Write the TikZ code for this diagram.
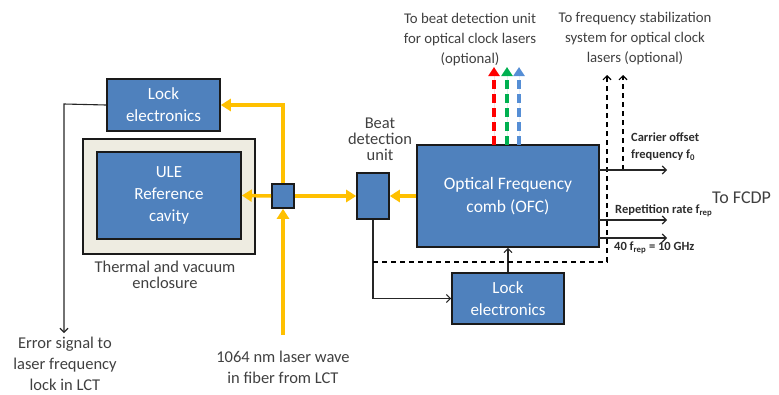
\documentclass[tikz,border=0pt]{standalone}
\usepackage{fontspec}
\setmainfont{Carlito}
\usetikzlibrary{arrows.meta,calc}
\definecolor{boxblue}{HTML}{4F81BD}
\definecolor{boxedge}{HTML}{1A1A1A}
\definecolor{encl}{HTML}{EEECE1}
\definecolor{laser}{HTML}{FFC000}
\definecolor{txtgray}{HTML}{404040}
\definecolor{cred}{HTML}{FF0000}
\definecolor{cgreen}{HTML}{00B050}
\definecolor{cblue}{HTML}{558ED5}
\tikzset{
  bluebox/.style={draw=boxedge, line width=1.6pt, fill=boxblue, text=white, align=center, inner sep=0pt,
    font=\fontsize{17}{22}\selectfont},
  enclbox/.style={draw=boxedge, line width=1.6pt, fill=encl, inner sep=0pt},
  yel/.style={draw=laser, line width=3.5pt, -{Triangle[length=10pt,width=12pt]}},
  sig/.style={draw=txtgray!60!black, line width=1.1pt, -{Straight Barb[length=4pt,width=8pt]}},
  dsig/.style={draw=black, line width=1.1pt, dash pattern=on 5pt off 4pt, -{Straight Barb[length=4pt,width=8pt]}},
  cdash/.style={line width=3.2pt, dash pattern=on 9pt off 5pt, -{Triangle[length=9pt,width=11pt]}},
  lbl/.style={text=txtgray, align=center, inner sep=0pt},
  small/.style={text=txtgray!70!black, align=left, inner sep=0pt, font=\bfseries\fontsize{12.5}{17}\selectfont},
}
\begin{document}
\begin{tikzpicture}[x=1pt,y=-1pt]
\useasboundingbox (0,0) rectangle (779,394);

% boxes
\node[bluebox, minimum width=113pt, minimum height=52pt] (lock1) at (163.5,105) {Lock\\electronics};
\node[enclbox, minimum width=172pt, minimum height=115pt] (encl) at (169,196.5) {};
\node[bluebox, minimum width=144pt, minimum height=87pt] (ule) at (169,195.5) {ULE\\Reference\\cavity};
\node[bluebox, minimum width=22pt, minimum height=24pt] (coup) at (283,196) {};
\node[bluebox, minimum width=32pt, minimum height=46pt] (beat) at (373,196) {};
\node[bluebox, minimum width=182pt, minimum height=102pt, font=\fontsize{17.5}{23}\selectfont] (ofc) at (508,196) {Optical Frequency\\comb (OFC)};
\node[bluebox, minimum width=112pt, minimum height=51pt] (lock2) at (508,298.5) {Lock\\electronics};

% labels
\node[lbl, font=\fontsize{16.5}{16}\selectfont] (thermal) at (165,275) {Thermal and vacuum\\enclosure};
\node[lbl, font=\fontsize{16.5}{16}\selectfont] (beatlbl) at (380,139) {Beat\\detection\\unit};
\node[lbl, font=\fontsize{16.5}{21}\selectfont] (errlbl) at (65,364) {Error signal to\\laser frequency\\lock in LCT};
\node[lbl, font=\fontsize{16.5}{21}\selectfont] (laserlbl) at (283,367.5) {1064 nm laser wave\\in fiber from LCT};
\node[lbl, font=\fontsize{14.8}{20}\selectfont] (toptxt1) at (470,40) {To beat detection unit\\for optical clock lasers\\(optional)};
\node[lbl, font=\fontsize{14.8}{20}\selectfont] (toptxt2) at (635,39) {To frequency stabilization\\system for optical clock\\lasers (optional)};
\node[lbl, font=\fontsize{18}{22}\selectfont, anchor=west] (fcdp) at (712,198) {To FCDP};
\node[small, anchor=west] (ceo) at (631,146.5) {Carrier offset\\frequency f\textsubscript{0}};
\node[small, anchor=west] (rep) at (615,211) {Repetition rate f\textsubscript{rep}};
\node[small, anchor=west] (forty) at (614,248) {40 f\textsubscript{rep} = 10 GHz};

% free ends
\coordinate (fiberin) at (283,335);
\coordinate (errout) at (64,333);
\coordinate (errcorner) at (64,104);
\coordinate (dtap) at (373,262);
\coordinate (dcorner) at (607,262);
\coordinate (dtop1) at (607,75);
\coordinate (dtap2) at (623,170);
\coordinate (dtop2) at (623,75);
\coordinate (ceoS) at (599,170);
\coordinate (ceoE) at (667,170);
\coordinate (repS) at (599,220);
\coordinate (repE) at (667,220);
\coordinate (fS) at (599,238);
\coordinate (fE) at (667,238);
\coordinate (rS) at (494,145);
\coordinate (rE) at (494,67);
\coordinate (gS) at (507,145);
\coordinate (gE) at (507,67);
\coordinate (bS) at (519,145);
\coordinate (bE) at (519,67);

% laser (yellow) paths
\draw[yel] (coup.north) |- (lock1.east);
\draw[yel] (coup.west) -- (ule.east);
\draw[yel] (fiberin) -- (coup.south);
\draw[yel] (coup.east) -- (beat.west);
\draw[yel] (ofc.west) -- (beat.east);

% electrical signals
\draw[sig] (lock1.west) -- (errcorner) -- (errout);
\draw[sig] (beat.south) |- (lock2.west);
\draw[sig] (lock2.north) -- (ofc.south);

% dashed
\draw[dsig] (dtap) -- (dcorner) -- (dtop1);
\draw[dsig] (dtap2) -- (dtop2);

% outputs
\draw[sig] (ceoS) -- (ceoE);
\draw[sig] (repS) -- (repE);
\draw[sig] (fS) -- (fE);

% coloured optical outputs
\draw[cdash, draw=cred, fill=cred] (rS) -- (rE);
\draw[cdash, draw=cgreen, fill=cgreen] (gS) -- (gE);
\draw[cdash, draw=cblue, fill=cblue] (bS) -- (bE);
\end{tikzpicture}
\end{document}
